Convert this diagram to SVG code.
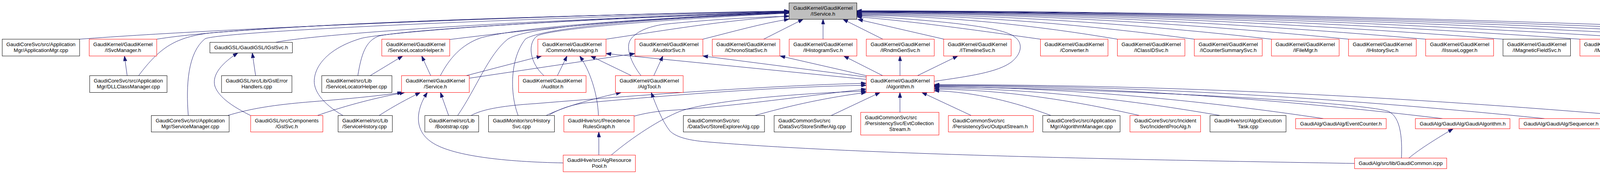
<svg xmlns="http://www.w3.org/2000/svg" width="5243" height="445" viewBox="0 0 5243 445">
<defs>
<style>
.node rect{fill:#fff;stroke:#000;stroke-width:1}
.node.r rect{stroke:#f00}
.node.g rect{fill:#bfbfbf}
.node text{font-family:"Liberation Sans",Arial,Helvetica,sans-serif;font-size:13.33px;fill:#000;text-anchor:middle}
.node text.l{text-anchor:start}
#edges path{fill:none;stroke:#191970;stroke-width:1;marker-end:url(#a)}
</style>
<marker id="a" markerUnits="userSpaceOnUse" markerWidth="14" markerHeight="10" refX="13" refY="4.5" orient="auto"><path d="M0,0 L13,4.5 L0,9 Z" fill="#191970" stroke="#191970" stroke-width="1"/></marker>
</defs>
<rect width="5243" height="445" fill="#fff"/>
<g id="edges">
<!-- left bundle to IService.h -->
<path d="M203.8,100.2 C600,70 1500,36 2020,28"/>
<path d="M401.2,100.2 C650,60 1500,38 2020,28.5"/>
<path d="M354.8,193.5 C410,120 450,95 540,84 C900,55 1500,38 2020,29"/>
<path d="M482,295.5 C476,220 480,135 525,99 C565,82 1200,50 2020,29.5"/>
<path d="M706,108.3 C760,96 1100,60 2020,30"/>
<path d="M878,295.5 C825,265 800,230 805,200 C810,160 850,120 925,98 C1000,80 1500,45 2020,30.5"/>
<path d="M916,193.5 C925,140 935,105 970,92 C1050,75 1500,48 2020,31"/>
<path d="M1151.3,101 C1400,70 1700,42 2020,31.5"/>
<path d="M1127.3,193.5 C1150,150 1180,115 1230,97 C1350,65 1700,45 2020,32"/>
<path d="M1171.5,295.5 C1220,225 1250,140 1300,100 C1340,75 1500,55 2020,32.5"/>
<path d="M1326.5,295.5 C1305,240 1305,150 1345,100 C1380,75 1600,50 2020,33"/>
<path d="M1392.5,193.5 C1355,160 1350,110 1375,92 C1400,78 1600,55 2020,33.5"/>
<path d="M1551.4,100.2 C1700,78 1850,52 2020,41"/>
<path d="M1641,193.5 C1615,160 1600,120 1615,100 C1630,80 1660,68 1700,62 C1800,52 1900,45 2020,41.5"/>
<path d="M1799.3,100.2 C1880,80 1950,60 2020,49"/>
<!-- bottom to IService.h -->
<path d="M1955,100.2 L2056,49.3"/>
<path d="M2107,100.2 L2107,49.3"/>
<path d="M2260,100.2 L2158,49.3"/>
<path d="M2416.7,100.2 L2196,49.5"/>
<!-- right fan to IService.h -->
<path d="M2663.6,100.2 C2560,86 2350,55 2193.5,43"/>
<path d="M2860.5,100.2 C2660.4,66.5 2427,40 2193.5,39"/>
<path d="M3057.4,100.2 C2798.2,65.4 2495.9,38 2193.5,37"/>
<path d="M3254.9,100.2 C2936.5,64.3 2565,36 2193.5,35"/>
<path d="M3452.2,100.2 C3074.6,63.2 2634,34 2193.5,33"/>
<path d="M3649.7,100.2 C3212.8,62.7 2703.2,33 2193.5,32"/>
<path d="M3847.7,100.2 C3351.4,62.1 2772.5,32 2193.5,31"/>
<path d="M4044.6,100.2 C3489.3,61.6 2841.4,31 2193.5,30"/>
<path d="M4241.5,100.2 C3627.1,61.3 2910.3,30.5 2193.5,29.5"/>
<path d="M4439.4,100.2 C3765.6,61 2979.6,30 2193.5,29"/>
<path d="M4636.3,100.2 C3903.5,60.8 3048.5,29.5 2193.5,28.5"/>
<path d="M4833.8,100.2 C4041.7,60.5 3117.6,29 2193.5,28"/>
<path d="M5031.2,100.2 C4179.9,60.2 3186.7,28.5 2193.5,27.5"/>
<path d="M2391.5,208 C2480,195 2555,185 2590,158 C2618,135 2618,108 2597,94 C2570,72 2450,55 2193.5,40"/>
<!-- Algorithm.h outgoing -->
<path d="M2217.5,203 L1551.4,137"/>
<path d="M2217.5,197 L1799.3,143.2"/>
<path d="M2217.5,193.5 L1997,143.2"/>
<path d="M2259.7,193.5 L2160,143.2"/>
<path d="M2304,193.5 L2304,143.2"/>
<path d="M2348.6,193.5 L2452,143.2"/>
<!-- into Algorithm.h from right -->
<path d="M2690.6,295.5 C2600.9,261.7 2496.2,235 2391.5,232"/>
<path d="M2917.4,295.5 C2759.6,259.5 2575.6,229 2391.5,228"/>
<path d="M3124,295.5 C2904.3,257.3 2647.9,226 2391.5,225"/>
<path d="M3388,303.3 C3089,258.6 2740.3,223 2391.5,222"/>
<path d="M3692.8,303.3 C3302.4,256.9 2846.9,220 2391.5,219.5"/>
<path d="M3954,303.3 C3485.3,255.8 2938.4,218 2391.5,218"/>
<path d="M4160.6,295.5 C3629.9,251.2 3010.7,216 2391.5,216.5"/>
<path d="M3587.7,404.3 C3590,350 3585,300 3555,285 C3500,265 3000,232 2391.5,221"/>
<!-- into Algorithm.h from left / below -->
<path d="M1205.9,295.5 C1225,285 1260,272 1370,265 C1700,238 2000,218 2217.5,213"/>
<path d="M1406.8,293.5 C1430,280 1460,268 1500,263 C1750,240 2000,222 2217.5,218"/>
<path d="M1623.2,297 C1650,290 1680,284 1720,282 C1900,270 2100,240 2217.5,228"/>
<path d="M1564.7,396.7 C1620,350 1690,305 1740,285 C1800,262 2000,240 2217.5,233"/>
<path d="M1932.5,295.5 C2050,262 2150,245 2217.5,236.5"/>
<path d="M2127.7,295.5 L2253,236.5"/>
<path d="M2303.9,287.3 L2303.9,236.5"/>
<path d="M2486.5,295.5 L2360,236.5"/>
<!-- GaudiCommon.icpp -->
<path d="M3467.7,418 C3000,410 2200,397 1800,362 C1760,358 1730,350 1715,335 C1695,310 1680,270 1667,236.5"/>
<path d="M3606.6,404.3 C3630,385 3660,365 3720,329.3"/>
<!-- AlgResourcePool / PrecedenceRulesGraph -->
<path d="M1533,396.7 L1533,337.5"/>
<path d="M1441.8,416.7 C1300,414 1150,400 1100,360 C1060,330 1065,280 1094,236.5"/>
<path d="M1532,295.5 C1530,240 1510,180 1484,143.2"/>
<!-- HistorySvc / Bootstrap / ServiceHistory / ServiceManager / GslSvc -->
<path d="M1398,295.5 C1450,270 1530,250 1590,236.5"/>
<path d="M1148.5,295.5 L1127.5,236.5"/>
<path d="M970.5,295.5 C1010,270 1045,252 1076,236.5"/>
<path d="M582.6,295.5 C640,278 700,268 800,260 C900,252 970,245 1030,236.5"/>
<path d="M812.3,295.5 C870,275 950,252 1036,236.5"/>
<path d="M641.8,295.5 C600,275 560,250 550,220 C542,190 570,160 609,135.3"/>
<path d="M654.4,193.5 L645.8,135.3"/>
<path d="M325.5,193.5 L318.6,143.2"/>
<path d="M947.6,193.5 L1030.8,143.2"/>
<path d="M1102.6,193.5 L1079.6,143.2"/>
<path d="M1193.3,193.5 L1386.7,143.2"/>
<path d="M1201.3,200 L1625.5,137"/>
<path d="M1426.9,193.5 L1451.6,143.2"/>
<path d="M1616.3,193.5 L1512,143.2"/>
<path d="M1673.7,193.5 L1697,143.2"/>
</g>

<g id="n1" class="node"><rect x="5.7" y="100.2" width="198.1" height="43"/><text x="104.75" y="118">GaudiCoreSvc/src/Application</text><text x="104.75" y="133">Mgr/ApplicationMgr.cpp</text></g>
<g id="n2" class="node r"><rect x="228.4" y="100.2" width="172.8" height="43"/><text x="314.8" y="118">GaudiKernel/GaudiKernel</text><text x="314.8" y="133">/ISvcManager.h</text></g>
<g id="n3" class="node"><rect x="537.3" y="108.3" width="211.2" height="27"/><text x="642.9" y="126.3">GaudiGSL/GaudiGSL/IGslSvc.h</text></g>
<g id="n4" class="node"><rect x="229.6" y="193.5" width="198" height="43"/><text x="328.6" y="211.3">GaudiCoreSvc/src/Application</text><text x="328.6" y="226.3">Mgr/DLLClassManager.cpp</text></g>
<g id="n5" class="node"><rect x="567.1" y="193.5" width="180.2" height="43"/><text x="657.2" y="211.3">GaudiGSL/src/Lib/GslError</text><text x="657.2" y="226.3">Handlers.cpp</text></g>
<g id="n6" class="node"><rect x="387.4" y="295.5" width="199.2" height="42"/><text x="487" y="312.8">GaudiCoreSvc/src/Application</text><text x="487" y="327.8">Mgr/ServiceManager.cpp</text></g>
<g id="n7" class="node r"><rect x="641.7" y="295.5" width="184.8" height="42"/><text x="734.1" y="312.8">GaudiGSL/src/Components</text><text x="734.1" y="327.8">/GslSvc.h</text></g>
<g id="n8" class="node"><rect x="823.7" y="193.5" width="179.6" height="43"/><text class="l" x="834.4" y="211.3">GaudiKernel/src/Lib</text><text class="l" x="834.4" y="226.3">/ServiceLocatorHelper.cpp</text></g>
<g id="n9" class="node"><rect x="865.5" y="295.5" width="138.9" height="42"/><text class="l" x="876.2" y="312.8">GaudiKernel/src/Lib</text><text class="l" x="876.2" y="327.8">/ServiceHistory.cpp</text></g>
<g id="n10" class="node r"><rect x="977.4" y="100.2" width="173.9" height="43"/><text x="1064.35" y="118">GaudiKernel/GaudiKernel</text><text x="1064.35" y="133">/ServiceLocatorHelper.h</text></g>
<g id="n11" class="node r"><rect x="1027.9" y="193.5" width="173.4" height="43"/><text x="1114.6" y="211.3">GaudiKernel/GaudiKernel</text><text x="1114.6" y="226.3">/Service.h</text></g>
<g id="n12" class="node"><rect x="1087.6" y="295.5" width="137.8" height="42"/><text x="1156.5" y="312.8">GaudiKernel/src/Lib</text><text x="1156.5" y="327.8">/Bootstrap.cpp</text></g>
<g id="n13" class="node"><rect x="1250.6" y="295.5" width="168.8" height="42"/><text x="1335" y="312.8">GaudiMonitor/src/History</text><text x="1335" y="327.8">Svc.cpp</text></g>
<g id="n14" class="node r"><rect x="1376.9" y="100.2" width="174.5" height="43"/><text x="1464.15" y="118">GaudiKernel/GaudiKernel</text><text x="1464.15" y="133">/CommonMessaging.h</text></g>
<g id="n15" class="node r"><rect x="1327.6" y="193.5" width="172.7" height="43"/><text x="1413.95" y="211.3">GaudiKernel/GaudiKernel</text><text x="1413.95" y="226.3">/Auditor.h</text></g>
<g id="n16" class="node r"><rect x="1443.5" y="295.5" width="179.7" height="42"/><text x="1533.35" y="312.8">GaudiHive/src/Precedence</text><text x="1533.35" y="327.8">RulesGraph.h</text></g>
<g id="n17" class="node r"><rect x="1441.8" y="396.7" width="184.8" height="42.6"/><text x="1534.2" y="414.3">GaudiHive/src/AlgResource</text><text x="1534.2" y="429.3">Pool.h</text></g>
<g id="n18" class="node r"><rect x="1625.5" y="100.2" width="173.8" height="43"/><text x="1712.4" y="118">GaudiKernel/GaudiKernel</text><text x="1712.4" y="133">/IAuditorSvc.h</text></g>
<g id="n19" class="node r"><rect x="1575.5" y="193.5" width="173.4" height="43"/><text x="1662.2" y="211.3">GaudiKernel/GaudiKernel</text><text x="1662.2" y="226.3">/AlgTool.h</text></g>
<g id="n20" class="node g"><rect x="2020" y="7.3" width="173.5" height="42"/><text x="2106.75" y="24.6">GaudiKernel/GaudiKernel</text><text x="2106.75" y="39.6">/IService.h</text></g>
<g id="n21" class="node r"><rect x="1823.4" y="100.2" width="172.8" height="43"/><text x="1909.8" y="118">GaudiKernel/GaudiKernel</text><text x="1909.8" y="133">/IChronoStatSvc.h</text></g>
<g id="n22" class="node r"><rect x="2020.3" y="100.2" width="173.3" height="43"/><text x="2106.95" y="118">GaudiKernel/GaudiKernel</text><text x="2106.95" y="133">/IHistogramSvc.h</text></g>
<g id="n23" class="node r"><rect x="2217.7" y="100.2" width="174" height="43"/><text x="2304.7" y="118">GaudiKernel/GaudiKernel</text><text x="2304.7" y="133">/IRndmGenSvc.h</text></g>
<g id="n24" class="node r"><rect x="2415.8" y="100.2" width="172.7" height="43"/><text x="2502.15" y="118">GaudiKernel/GaudiKernel</text><text x="2502.15" y="133">/ITimelineSvc.h</text></g>
<g id="n25" class="node r"><rect x="2217.5" y="193.5" width="174" height="43"/><text x="2304.5" y="211.3">GaudiKernel/GaudiKernel</text><text x="2304.5" y="226.3">/Algorithm.h</text></g>
<g id="n26" class="node"><rect x="1749.4" y="295.5" width="207.7" height="42"/><text class="l" x="1760.1" y="312.8">GaudiCommonSvc/src</text><text class="l" x="1760.1" y="327.8">/DataSvc/StoreExplorerAlg.cpp</text></g>
<g id="n27" class="node"><rect x="1981.8" y="295.5" width="197.5" height="42"/><text class="l" x="1992.5" y="312.8">GaudiCommonSvc/src</text><text class="l" x="1992.5" y="327.8">/DataSvc/StoreSnifferAlg.cpp</text></g>
<g id="n28" class="node r"><rect x="2203.4" y="287.3" width="200.3" height="58"/><text class="l" x="2214.1" y="305">GaudiCommonSvc/src</text><text class="l" x="2214.1" y="320">/PersistencySvc/EvtCollection</text><text x="2303.55" y="335">Stream.h</text></g>
<g id="n29" class="node r"><rect x="2427.8" y="295.5" width="217.5" height="42"/><text class="l" x="2438.5" y="312.8">GaudiCommonSvc/src</text><text class="l" x="2438.5" y="327.8">/PersistencySvc/OutputStream.h</text></g>
<g id="n30" class="node r"><rect x="2663.6" y="100.2" width="172.8" height="43"/><text x="2750" y="118">GaudiKernel/GaudiKernel</text><text x="2750" y="133">/Converter.h</text></g>
<g id="n31" class="node r"><rect x="2860.5" y="100.2" width="172.8" height="43"/><text x="2946.9" y="118">GaudiKernel/GaudiKernel</text><text x="2946.9" y="133">/IClassIDSvc.h</text></g>
<g id="n32" class="node r"><rect x="3057.4" y="100.2" width="173.9" height="43"/><text x="3144.35" y="118">GaudiKernel/GaudiKernel</text><text x="3144.35" y="133">/ICounterSummarySvc.h</text></g>
<g id="n33" class="node r"><rect x="3254.9" y="100.2" width="173.3" height="43"/><text x="3341.55" y="118">GaudiKernel/GaudiKernel</text><text x="3341.55" y="133">/IFileMgr.h</text></g>
<g id="n34" class="node"><rect x="2669.4" y="295.5" width="198" height="42"/><text x="2768.4" y="312.8">GaudiCoreSvc/src/Application</text><text x="2768.4" y="327.8">Mgr/AlgorithmManager.cpp</text></g>
<g id="n35" class="node r"><rect x="2892.7" y="295.5" width="180.8" height="42"/><text x="2983.1" y="312.8">GaudiCoreSvc/src/Incident</text><text x="2983.1" y="327.8">Svc/IncidentProcAlg.h</text></g>
<g id="n36" class="node"><rect x="3097.6" y="295.5" width="194.6" height="42"/><text x="3194.9" y="312.8">GaudiHive/src/AlgoExecution</text><text x="3194.9" y="327.8">Task.cpp</text></g>
<g id="n37" class="node r"><rect x="3316.8" y="303.3" width="231.9" height="26"/><text x="3432.75" y="320.8">GaudiAlg/GaudiAlg/EventCounter.h</text></g>
<g id="n38" class="node r"><rect x="3452.2" y="100.2" width="173.4" height="43"/><text x="3538.9" y="118">GaudiKernel/GaudiKernel</text><text x="3538.9" y="133">/IHistorySvc.h</text></g>
<g id="n39" class="node r"><rect x="3649.7" y="100.2" width="173.9" height="43"/><text x="3736.65" y="118">GaudiKernel/GaudiKernel</text><text x="3736.65" y="133">/IIssueLogger.h</text></g>
<g id="n40" class="node"><rect x="3847.7" y="100.2" width="172.8" height="43"/><text x="3934.1" y="118">GaudiKernel/GaudiKernel</text><text x="3934.1" y="133">/IMagneticFieldSvc.h</text></g>
<g id="n41" class="node r"><rect x="4044.6" y="100.2" width="172.8" height="43"/><text x="4131" y="118">GaudiKernel/GaudiKernel</text><text x="4131" y="133">/IMetaDataSvc.h</text></g>
<g id="n42" class="node r"><rect x="4241.5" y="100.2" width="173.8" height="43"/><text x="4328.4" y="118">GaudiKernel/GaudiKernel</text><text x="4328.4" y="133">/IParticlePropertySvc.h</text></g>
<g id="n43" class="node r"><rect x="3623.3" y="303.3" width="242.2" height="26"/><text x="3744.4" y="320.8">GaudiAlg/GaudiAlg/GaudiAlgorithm.h</text></g>
<g id="n44" class="node r"><rect x="3889" y="303.3" width="214.5" height="26"/><text x="3996.25" y="320.8">GaudiAlg/GaudiAlg/Sequencer.h</text></g>
<g id="n45" class="node"><rect x="4127.5" y="295.5" width="214.8" height="42"/><text class="l" x="4138.2" y="312.8">GaudiCommonSvc/src</text><text class="l" x="4138.2" y="327.8">/DataSvc/PartitionSwitchAlg.cpp</text></g>
<g id="n46" class="node r"><rect x="3467.7" y="404.3" width="235.9" height="27"/><text x="3585.65" y="422.3">GaudiAlg/src/lib/GaudiCommon.icpp</text></g>
<g id="n47" class="node r"><rect x="4439.4" y="100.2" width="172.8" height="43"/><text x="4525.8" y="118">GaudiKernel/GaudiKernel</text><text x="4525.8" y="133">/IPartPropSvc.h</text></g>
<g id="n48" class="node r"><rect x="4636.3" y="100.2" width="173.4" height="43"/><text x="4723" y="118">GaudiKernel/GaudiKernel</text><text x="4723" y="133">/IStatusCodeSvc.h</text></g>
<g id="n49" class="node r"><rect x="4833.8" y="100.2" width="173.9" height="43"/><text x="4920.75" y="118">GaudiKernel/GaudiKernel</text><text x="4920.75" y="133">/ITHistSvc.h</text></g>
<g id="n50" class="node"><rect x="5031.2" y="100.2" width="207.2" height="43"/><text class="l" x="5041.9" y="118">GaudiKernel/src/Lib</text><text class="l" x="5041.9" y="133">/EventSelectorDataStream.cpp</text></g>
</svg>
